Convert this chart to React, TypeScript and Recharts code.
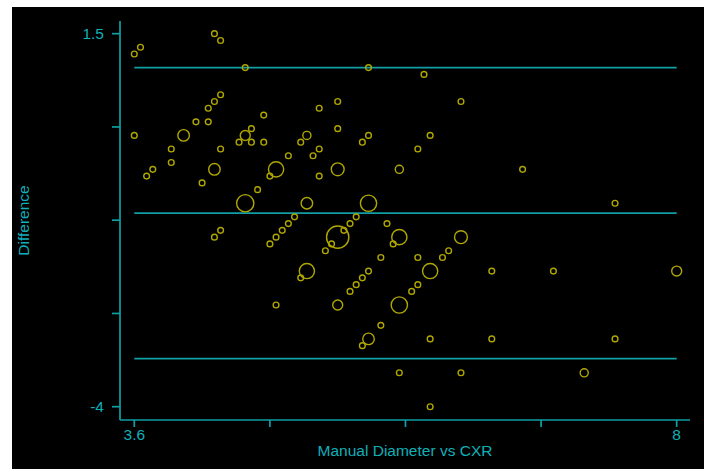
import { ScatterChart, Scatter, XAxis, YAxis, ZAxis, ReferenceLine } from "recharts";

// Bland-Altman: mean of manual diameter and CXR vs. their difference, bubble = count
const meanDiameter = [
    4.25, 4.3, 3.65, 3.6, 4.5, 5.5, 5.95, 4.3, 4.25, 5.25, 6.25, 4.2, 5.1, 4.65, 4.1, 4.2,
    4.55, 5.25, 3.6, 4.0, 4.5, 5.0, 5.5, 6.0, 4.45, 4.55, 4.65, 4.95, 5.45, 3.9, 4.3, 5.1,
    5.9, 4.85, 5.05, 3.9, 3.75, 4.25, 4.75, 5.25, 5.75, 6.75, 3.7, 4.7, 5.1, 4.15, 4.6, 4.5,
    5.0, 5.5, 7.5, 4.9, 5.4, 4.85, 5.35, 5.65, 4.3, 4.8, 5.3, 4.25, 4.75, 5.25, 5.75, 6.25,
    4.7, 5.2, 5.7, 5.15, 6.15, 5.6, 5.9, 6.1, 5.0, 5.5, 6.0, 6.5, 7.0, 8.0, 4.95, 5.45,
    5.4, 5.9, 5.35, 5.85, 4.75, 5.25, 5.75, 5.6, 5.5, 6.0, 6.5, 7.5, 5.45, 5.75, 6.25, 7.25,
    6.0,
];
const difference = [
    1.5, 1.4, 1.3, 1.2, 1.0, 1.0, 0.9, 0.6, 0.5, 0.5, 0.5, 0.4, 0.4, 0.3, 0.2, 0.2,
    0.1, 0.1, 0, 0, 0, 0, 0, 0, -0.1, -0.1, -0.1, -0.1, -0.1, -0.2, -0.2, -0.2,
    -0.2, -0.3, -0.3, -0.4, -0.5, -0.5, -0.5, -0.5, -0.5, -0.5, -0.6, -0.6, -0.6, -0.7, -0.8, -1.0,
    -1.0, -1.0, -1.0, -1.2, -1.2, -1.3, -1.3, -1.3, -1.4, -1.4, -1.4, -1.5, -1.5, -1.5, -1.5, -1.5,
    -1.6, -1.6, -1.6, -1.7, -1.7, -1.8, -1.8, -1.8, -2.0, -2.0, -2.0, -2.0, -2.0, -2.0, -2.1, -2.1,
    -2.2, -2.2, -2.3, -2.3, -2.5, -2.5, -2.5, -2.8, -3.0, -3.0, -3.0, -3.0, -3.1, -3.5, -3.5, -3.5,
    -4.0,
];
const count = [
    1, 1, 1, 1, 1, 1, 1, 1, 1, 1, 1, 1, 1, 1, 1, 1,
    1, 1, 1, 4, 3, 2, 1, 1, 1, 1, 1, 1, 1, 1, 1, 1,
    1, 1, 1, 1, 1, 4, 7, 5, 2, 1, 1, 1, 1, 1, 1, 9,
    4, 8, 1, 1, 1, 1, 1, 1, 1, 1, 1, 1, 1, 15, 7, 5,
    1, 1, 1, 1, 1, 1, 1, 1, 7, 1, 7, 1, 1, 3, 1, 1,
    1, 1, 1, 1, 1, 3, 8, 1, 4, 1, 1, 1, 1, 1, 1, 2,
    1,
];

const meanLine = -1.145;
const upperLimit = 1.0;
const lowerLimit = -3.29;

const xTicks = [3.6, 4.7, 5.8, 6.9, 8];
const yTicks = [1.5, 0.125, -1.25, -2.625, -4];
const xLabeled = [3.6, 8];
const yLabeled = [1.5, -4];

const data = meanDiameter.map((x, i) => ({ x, y: difference[i], n: count[i] }));

const AXIS = "#0f9fa5";
const TEXT = "#10b0b8";
const DOT = "#b0a700";
const FONT = "'Liberation Sans', Arial, sans-serif";
const FS = 15.5;
const BASE_AREA = 26;

const YLabel = ({ viewBox }: any) => {
    const cx = 11.5;
    const cy = viewBox.y + viewBox.height / 2;
    return (
        <text x={cx} y={cy} transform={`rotate(-90 ${cx} ${cy})`} textAnchor="middle" dominantBaseline="central"
            fill={TEXT} fontSize={FS} fontFamily={FONT}>
            Difference
        </text>
    );
};

export default function App() {
    return (
        <div style={{ position: 'absolute', left: 12, top: 7, width: 692, height: 462, background: '#000' }}>
            <ScatterChart width={692} height={462} margin={{ top: 14, right: 14, bottom: 9, left: 0 }}>
                <XAxis
                    type="number"
                    dataKey="x"
                    domain={[3.484, 8.108]}
                    allowDataOverflow
                    ticks={xTicks}
                    interval={0}
                    height={40}
                    tickSize={7}
                    tickFormatter={(v) => (xLabeled.includes(v) ? String(v) : '')}
                    tick={{ fill: TEXT, fontSize: FS, fontFamily: FONT }}
                    axisLine={{ stroke: AXIS, strokeWidth: 1.7 }}
                    tickLine={{ stroke: AXIS, strokeWidth: 1.7 }}
                    label={{ value: 'Manual Diameter vs CXR', position: 'insideBottom', offset: 4.5, fill: TEXT, fontSize: FS, fontFamily: FONT }}
                />
                <YAxis
                    type="number"
                    dataKey="y"
                    domain={[-4.196, 1.687]}
                    allowDataOverflow
                    ticks={yTicks}
                    interval={0}
                    width={108}
                    tickSize={8}
                    tickMargin={8}
                    tickFormatter={(v) => (yLabeled.includes(v) ? String(v) : '')}
                    tick={{ fill: TEXT, fontSize: FS, fontFamily: FONT }}
                    axisLine={{ stroke: AXIS, strokeWidth: 1.7 }}
                    tickLine={{ stroke: AXIS, strokeWidth: 1.7 }}
                    label={<YLabel />}
                />
                <ZAxis type="number" dataKey="n" domain={[0, 15]} range={[0, 15 * BASE_AREA]} />
                <ReferenceLine segment={[{ x: 3.6, y: upperLimit }, { x: 8, y: upperLimit }]} stroke={AXIS} strokeWidth={1.7} />
                <ReferenceLine segment={[{ x: 3.6, y: meanLine }, { x: 8, y: meanLine }]} stroke={AXIS} strokeWidth={1.7} />
                <ReferenceLine segment={[{ x: 3.6, y: lowerLimit }, { x: 8, y: lowerLimit }]} stroke={AXIS} strokeWidth={1.7} />
                <Scatter data={data} shape="circle" fill="none" stroke={DOT} strokeWidth={1.4} isAnimationActive={false} />
            </ScatterChart>
        </div>
    );
}
